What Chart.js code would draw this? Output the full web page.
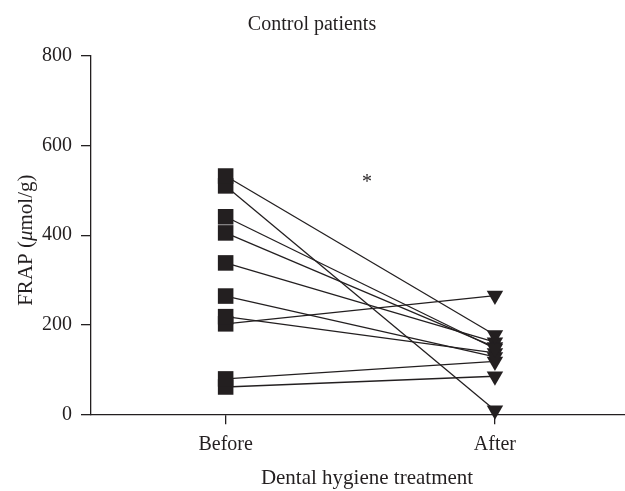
<!DOCTYPE html>
<html>
<head>
<meta charset="utf-8">
<script src="https://cdn.jsdelivr.net/npm/chart.js@4"></script>
<style>
  html, body { margin: 0; padding: 0; background: #ffffff; }
  #wrap { width: 625px; height: 491px; position: relative; }
</style>
</head>
<body>
<div id="wrap"><canvas id="c" width="625" height="491"></canvas></div>
<script>
// ---- data ----
const categories = ['Before', 'After'];
const beforeValues = [532, 510, 441, 405, 338, 264, 218, 202, 79, 61];
const afterValues  = [177, 9, 147, 150, 161, 128, 137, 265, 118, 85];
const yTicks = [0, 200, 400, 600, 800];

const title = 'Control patients';
const xTitle = 'Dental hygiene treatment';
const yTitleParts = [['FRAP (', 'normal'], ['\u03BC', 'italic'], ['mol/g)', 'normal']];
const annotation = '*';

const INK = '#231f20';
const FONT = '"Liberation Serif", "Times New Roman", serif';

const datasets = beforeValues.map((b, i) => ({
  data: [{ x: 0, y: b }, { x: 1, y: afterValues[i] }],
  borderColor: INK,
  borderWidth: 1.3,
  backgroundColor: INK,
  pointBackgroundColor: INK,
  pointBorderColor: INK,
  pointBorderWidth: 0,
  pointStyle: ['rect', 'triangle'],
  pointRotation: [0, 180],
  pointRadius: [11, 9.5],
  fill: false,
  tension: 0,
  clip: false
}));

const textPlugin = {
  id: 'texts',
  afterDraw(chart) {
    const ctx = chart.ctx;
    const ys = chart.scales.y;
    ctx.save();
    ctx.fillStyle = INK;
    ctx.font = '20px ' + FONT;
    ctx.textAlign = 'center';
    ctx.textBaseline = 'alphabetic';
    ctx.fillText(title, 312, 29.5);
    ctx.font = '21px ' + FONT;
    ctx.fillText(xTitle, 367, 483.5);
    ctx.font = '20px ' + FONT;
    ctx.fillText(annotation, 367, 188);
    // y title, rotated, with italic mu
    const cy = (ys.top + ys.bottom) / 2 + 5;
    ctx.translate(32, cy);
    ctx.rotate(-Math.PI / 2);
    let total = 0;
    const widths = yTitleParts.map(([t, st]) => {
      ctx.font = (st === 'italic' ? 'italic ' : '') + '21px ' + FONT;
      const w = ctx.measureText(t).width;
      total += w;
      return w;
    });
    let x = -total / 2;
    ctx.textAlign = 'left';
    yTitleParts.forEach(([t, st], i) => {
      ctx.font = (st === 'italic' ? 'italic ' : '') + '21px ' + FONT;
      ctx.fillText(t, x, 0);
      x += widths[i];
    });
    ctx.restore();
  }
};

new Chart(document.getElementById('c'), {
  type: 'line',
  data: { datasets },
  options: {
    responsive: false,
    animation: false,
    events: [],
    layout: { autoPadding: false, padding: { top: 56, right: 0, left: 0, bottom: 0 } },
    plugins: { legend: { display: false }, tooltip: { enabled: false }, title: { display: false } },
    scales: {
      x: {
        type: 'linear',
        min: -0.5,
        max: 1.483,
        afterBuildTicks: s => { s.ticks = [0, 1].map(v => ({ value: v })); },
        afterFit: s => { s.height = 76.7; s.paddingLeft = 0; s.paddingRight = 0; },
        ticks: {
          callback: v => categories[v],
          color: INK,
          font: { family: FONT, size: 20 },
          padding: 8,
          maxRotation: 0
        },
        grid: { drawOnChartArea: false, tickLength: 10, color: INK, lineWidth: 1.3 },
        border: { color: INK, width: 1.3 }
      },
      y: {
        type: 'linear',
        min: 0,
        max: 800,
        afterBuildTicks: s => { s.ticks = yTicks.map(v => ({ value: v })); },
        afterFit: s => { s.width = 91; s.paddingTop = 0; s.paddingBottom = 0; },
        ticks: {
          color: INK,
          font: { family: FONT, size: 20 },
          padding: 9
        },
        grid: { drawOnChartArea: false, tickLength: 10, color: INK, lineWidth: 1.3 },
        border: { color: INK, width: 1.3 }
      }
    }
  },
  plugins: [textPlugin]
});
</script>
</body>
</html>
